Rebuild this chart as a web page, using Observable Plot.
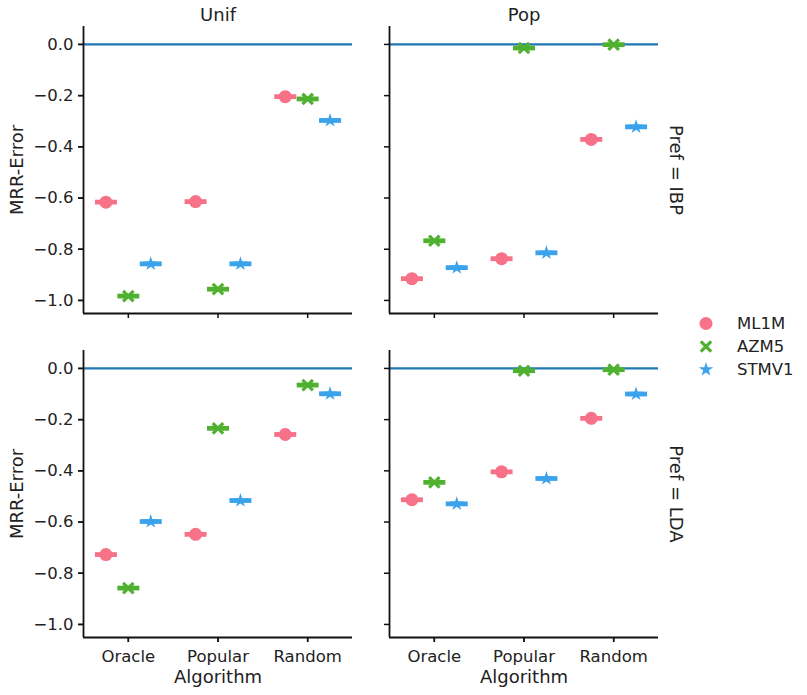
<!DOCTYPE html>
<html>
<head>
<meta charset="utf-8">
<script src="https://cdn.jsdelivr.net/npm/d3@7"></script>
<script src="https://cdn.jsdelivr.net/npm/@observablehq/plot@0.6"></script>
<style>
  body { margin: 0; background: #fff; font-family: "DejaVu Sans", sans-serif; }
  #wrap { position: relative; width: 807px; height: 695px; }
  #legend { position: absolute; left: 690px; top: 312px; font-size: 16.5px; color: #222; }
  #legend .row { display: flex; align-items: center; height: 23px; }
  #legend svg { width: 34px; height: 23px; flex: none; }
  #legend span { margin-left: 13px; }
</style>
</head>
<body>
<div id="wrap">
  <div id="chart"></div>
  <div id="legend"></div>
</div>
<script>
// ---- data ----
const algorithms = ["Oracle", "Popular", "Random"];
const seriesNames = ["ML1M", "AZM5", "STMV1"];
const columns = ["Unif", "Pop"];
const prefs = ["IBP", "LDA"];
const colors = ["#f77189", "#50b131", "#3ba3ec"];
const yTicks = [0, -0.2, -0.4, -0.6, -0.8, -1.0];
const xTicks = [0, 1, 2];
// rows: ML1M, AZM5, STMV1 ; columns: Oracle, Popular, Random
const unifIBP = [[-0.616, -0.614, -0.204], [-0.983, -0.956, -0.213], [-0.857, -0.857, -0.297]];
const popIBP  = [[-0.915, -0.837, -0.371], [-0.767, -0.014, -0.001], [-0.872, -0.814, -0.322]];
const unifLDA = [[-0.727, -0.648, -0.258], [-0.858, -0.234, -0.065], [-0.598, -0.516, -0.099]];
const popLDA  = [[-0.513, -0.404, -0.195], [-0.445, -0.009, -0.005], [-0.529, -0.430, -0.100]];

const panels = [
  {col: "Unif", pref: "IBP", vals: unifIBP},
  {col: "Pop", pref: "IBP", vals: popIBP},
  {col: "Unif", pref: "LDA", vals: unifLDA},
  {col: "Pop", pref: "LDA", vals: popLDA}
];
const table = [];
for (const p of panels) {
  seriesNames.forEach((s, si) => {
    algorithms.forEach((a, ai) => {
      table.push({col: p.col, pref: p.pref, series: s, alg: a, value: p.vals[si][ai]});
    });
  });
}

const yDomain = [-1.051, 0.07];
const xDomain = [-0.5, 2.5];
const dodge = 0.25;
const xpos = d => algorithms.indexOf(d.alg) + (seriesNames.indexOf(d.series) - 1) * dodge;

const dashSymbol = {draw(ctx) { ctx.rect(-11, -2.4, 22, 4.8); }};
const font = "DejaVu Sans";
const fmt = v => d3.format(".1f")(v).replace("-", "\u2212").replace("\u22120.0", "0.0");

const common = {x: xpos, y: "value", fx: "col", fy: "pref"};

const chart = Plot.plot({
  width: 807,
  height: 695,
  marginLeft: 82,
  marginRight: 148,
  marginTop: 26,
  marginBottom: 57,
  style: {fontFamily: font, fontSize: "16.5px", color: "#222", background: "white"},
  x: {domain: xDomain, axis: null},
  y: {domain: yDomain, axis: null},
  fx: {domain: columns, paddingInner: 0.1205, paddingOuter: 0, axis: null},
  fy: {domain: prefs, paddingInner: 0.114, paddingOuter: 0, axis: null},
  color: {domain: seriesNames, range: colors},
  marks: [
    Plot.ruleY([0], {stroke: "#1f77b4", strokeWidth: 2.2}),
    Plot.dot(table, {...common, symbol: dashSymbol, fill: "series", r: 5}),
    Plot.dot(table.filter(d => d.series === "ML1M"), {...common, symbol: "circle", fill: "series", r: 6.5}),
    Plot.dot(table.filter(d => d.series === "AZM5"), {...common, symbol: "times", stroke: "series", strokeWidth: 3.2, r: 4.8}),
    Plot.dot(table.filter(d => d.series === "STMV1"), {...common, symbol: "star", fill: "series", r: 4.5}),
    // spines
    Plot.ruleX([xDomain[0]], {stroke: "#111", strokeWidth: 1.8}),
    Plot.ruleY([yDomain[0]], {stroke: "#111", strokeWidth: 1.8}),
    // ticks on every facet
    Plot.axisY({ticks: yTicks, facetAnchor: null, tickSize: 5, tickFormat: () => "", stroke: "#111", strokeWidth: 1.5, label: null}),
    Plot.axisX({ticks: xTicks, facetAnchor: null, tickSize: 5, tickFormat: () => "", stroke: "#111", strokeWidth: 1.5, label: null}),
    // tick labels on outer facets
    Plot.axisY({ticks: yTicks, facetAnchor: "left", tickSize: 5, tickPadding: 5, tickFormat: fmt, stroke: "#111", strokeWidth: 1.5, fontSize: 16.5, label: null}),
    Plot.axisX({ticks: xTicks, facetAnchor: "bottom", tickSize: 5, tickPadding: 8, tickFormat: i => algorithms[i], stroke: "#111", strokeWidth: 1.5, fontSize: 16.5, label: null}),
    // axis labels
    Plot.text(columns.map(c => ({col: c, pref: "LDA"})), {fx: "col", fy: "pref", text: () => "Algorithm", frameAnchor: "bottom", textAnchor: "middle", lineAnchor: "middle", dy: 39.5, fontSize: 18, fill: "#222"}),
    Plot.text(prefs.map(p => ({col: "Unif", pref: p})), {fx: "col", fy: "pref", text: () => "MRR-Error", frameAnchor: "left", textAnchor: "middle", lineAnchor: "middle", dx: -66, rotate: -90, fontSize: 18, fill: "#222"}),
    // facet titles
    Plot.text(columns.map(c => ({col: c, pref: "IBP"})), {fx: "col", fy: "pref", text: "col", frameAnchor: "top", textAnchor: "middle", lineAnchor: "middle", dy: -11, fontSize: 18, fill: "#222"}),
    Plot.text(prefs.map(p => ({col: "Pop", pref: p})), {fx: "col", fy: "pref", text: d => "Pref = " + d.pref, frameAnchor: "right", textAnchor: "middle", lineAnchor: "middle", dx: 17, rotate: 90, fontSize: 18, fill: "#222"})
  ]
});
document.getElementById("chart").appendChild(chart);

// ---- legend ----
const legend = d3.select("#legend");
const legendSymbols = [d3.symbolCircle, d3.symbolTimes, d3.symbolStar];
const legendSizes = [133, 72, 64];
seriesNames.forEach((s, i) => {
  const row = legend.append("div").attr("class", "row");
  const svg = row.append("svg");
  const path = svg.append("path")
    .attr("transform", "translate(16,11.5)")
    .attr("d", d3.symbol(legendSymbols[i], legendSizes[i])());
  if (i === 1) path.attr("fill", "none").attr("stroke", colors[i]).attr("stroke-width", 3.2);
  else path.attr("fill", colors[i]);
  row.append("span").text(s);
});
</script>
</body>
</html>
